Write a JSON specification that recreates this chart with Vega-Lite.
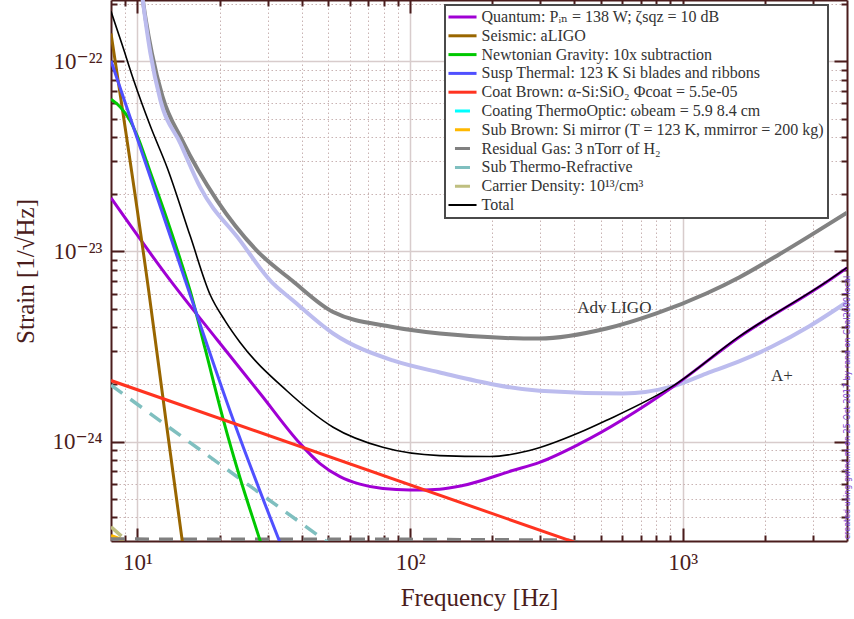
{
  "$schema": "https://vega.github.io/schema/vega-lite/v6.json",
  "width": 736,
  "height": 541,
  "autosize": {"type": "none"},
  "padding": {"left": 111, "top": 0, "right": 7, "bottom": 78},
  "background": "white",
  "config": {
    "view": {"stroke": null},
    "font": "Liberation Serif"
  },
  "datasets": {
    "curves": [
      {"s": "Quantum: Pᵢₙ = 138 W; ζsqz = 10 dB", "f": 8, "h": 1.91e-23},
      {"s": "Quantum: Pᵢₙ = 138 W; ζsqz = 10 dB", "f": 13.2, "h": 7.04e-24},
      {"s": "Quantum: Pᵢₙ = 138 W; ζsqz = 10 dB", "f": 19.57, "h": 3.44e-24},
      {"s": "Quantum: Pᵢₙ = 138 W; ζsqz = 10 dB", "f": 28.18, "h": 1.79e-24},
      {"s": "Quantum: Pᵢₙ = 138 W; ζsqz = 10 dB", "f": 39.49, "h": 9.76e-25},
      {"s": "Quantum: Pᵢₙ = 138 W; ζsqz = 10 dB", "f": 46.72, "h": 7.66e-25},
      {"s": "Quantum: Pᵢₙ = 138 W; ζsqz = 10 dB", "f": 55.31, "h": 6.54e-25},
      {"s": "Quantum: Pᵢₙ = 138 W; ζsqz = 10 dB", "f": 65.46, "h": 5.97e-25},
      {"s": "Quantum: Pᵢₙ = 138 W; ζsqz = 10 dB", "f": 79.45, "h": 5.66e-25},
      {"s": "Quantum: Pᵢₙ = 138 W; ζsqz = 10 dB", "f": 99.75, "h": 5.56e-25},
      {"s": "Quantum: Pᵢₙ = 138 W; ζsqz = 10 dB", "f": 128.4, "h": 5.62e-25},
      {"s": "Quantum: Pᵢₙ = 138 W; ζsqz = 10 dB", "f": 155.9, "h": 5.87e-25},
      {"s": "Quantum: Pᵢₙ = 138 W; ζsqz = 10 dB", "f": 237.5, "h": 7.04e-25},
      {"s": "Quantum: Pᵢₙ = 138 W; ζsqz = 10 dB", "f": 298.3, "h": 7.78e-25},
      {"s": "Quantum: Pᵢₙ = 138 W; ζsqz = 10 dB", "f": 417.8, "h": 9.72e-25},
      {"s": "Quantum: Pᵢₙ = 138 W; ζsqz = 10 dB", "f": 914.9, "h": 1.93e-24},
      {"s": "Quantum: Pᵢₙ = 138 W; ζsqz = 10 dB", "f": 1608, "h": 3.54e-24},
      {"s": "Quantum: Pᵢₙ = 138 W; ζsqz = 10 dB", "f": 3433, "h": 7.04e-24},
      {"s": "Quantum: Pᵢₙ = 138 W; ζsqz = 10 dB", "f": 4000, "h": 8.2e-24},

      {"s": "Seismic: aLIGO", "f": 8, "h": 1.4e-22},
      {"s": "Seismic: aLIGO", "f": 11.0, "h": 6.2e-24},
      {"s": "Seismic: aLIGO", "f": 12.77, "h": 1.24e-24},
      {"s": "Seismic: aLIGO", "f": 14.8, "h": 2.6e-25},

      {"s": "Newtonian Gravity: 10x subtraction", "f": 8, "h": 6.32e-23},
      {"s": "Newtonian Gravity: 10x subtraction", "f": 8.67, "h": 5.73e-23},
      {"s": "Newtonian Gravity: 10x subtraction", "f": 9.428, "h": 4.83e-23},
      {"s": "Newtonian Gravity: 10x subtraction", "f": 10, "h": 4.03e-23},
      {"s": "Newtonian Gravity: 10x subtraction", "f": 11.16, "h": 2.6e-23},
      {"s": "Newtonian Gravity: 10x subtraction", "f": 12.66, "h": 1.566e-23},
      {"s": "Newtonian Gravity: 10x subtraction", "f": 14.36, "h": 9.08e-24},
      {"s": "Newtonian Gravity: 10x subtraction", "f": 15.63, "h": 6.16e-24},
      {"s": "Newtonian Gravity: 10x subtraction", "f": 17.74, "h": 3.05e-24},
      {"s": "Newtonian Gravity: 10x subtraction", "f": 20.69, "h": 1.29e-24},
      {"s": "Newtonian Gravity: 10x subtraction", "f": 23.82, "h": 6.39e-25},
      {"s": "Newtonian Gravity: 10x subtraction", "f": 28.18, "h": 3.01e-25},
      {"s": "Newtonian Gravity: 10x subtraction", "f": 29.4, "h": 2.48e-25},

      {"s": "Susp Thermal: 123 K Si blades and ribbons", "f": 8, "h": 1.006e-22},
      {"s": "Susp Thermal: 123 K Si blades and ribbons", "f": 14.98, "h": 7.03e-24},
      {"s": "Susp Thermal: 123 K Si blades and ribbons", "f": 22.5, "h": 1.29e-24},
      {"s": "Susp Thermal: 123 K Si blades and ribbons", "f": 36.3, "h": 2.16e-25},

      {"s": "Coat Brown: α-Si:SiO₂ Φcoat = 5.5e-05", "f": 8, "h": 2.094e-24},
      {"s": "Coat Brown: α-Si:SiO₂ Φcoat = 5.5e-05", "f": 1000, "h": 1.87e-25},

      {"s": "Coating ThermoOptic: ωbeam = 5.9 8.4 cm", "f": 8, "h": 1.2e-25},
      {"s": "Coating ThermoOptic: ωbeam = 5.9 8.4 cm", "f": 4000, "h": 6e-26},

      {"s": "Sub Brown: Si mirror (T = 123 K, mmirror = 200 kg)", "f": 8, "h": 3.2e-25},
      {"s": "Sub Brown: Si mirror (T = 123 K, mmirror = 200 kg)", "f": 9.6, "h": 2.9e-25},
      {"s": "Sub Brown: Si mirror (T = 123 K, mmirror = 200 kg)", "f": 100, "h": 1.0e-25},

      {"s": "Residual Gas: 3 nTorr of H₂", "f": 8, "h": 3.07e-25},
      {"s": "Residual Gas: 3 nTorr of H₂", "f": 100, "h": 3.06e-25},
      {"s": "Residual Gas: 3 nTorr of H₂", "f": 380, "h": 3.03e-25},
      {"s": "Residual Gas: 3 nTorr of H₂", "f": 440, "h": 2.9e-25},
      {"s": "Residual Gas: 3 nTorr of H₂", "f": 4000, "h": 1.2e-25},

      {"s": "Sub Thermo-Refractive", "f": 8, "h": 1.98e-24},
      {"s": "Sub Thermo-Refractive", "f": 60, "h": 2.43e-25},

      {"s": "Carrier Density: 10¹³/cm³", "f": 8, "h": 3.56e-25},
      {"s": "Carrier Density: 10¹³/cm³", "f": 9.4, "h": 2.9e-25},

      {"s": "Total", "f": 8, "h": 1.83e-22},
      {"s": "Total", "f": 8.81, "h": 1.21e-22},
      {"s": "Total", "f": 9.69, "h": 7.94e-23},
      {"s": "Total", "f": 11.16, "h": 4.55e-23},
      {"s": "Total", "f": 12.88, "h": 2.74e-23},
      {"s": "Total", "f": 15.63, "h": 1.2e-23},
      {"s": "Total", "f": 18.5, "h": 5.9e-24},
      {"s": "Total", "f": 21, "h": 4.3e-24},
      {"s": "Total", "f": 23.8, "h": 3.32e-24},
      {"s": "Total", "f": 35.3, "h": 1.85e-24},
      {"s": "Total", "f": 52.2, "h": 1.19e-24},
      {"s": "Total", "f": 79.4, "h": 9.33e-25},
      {"s": "Total", "f": 128.5, "h": 8.44e-25},
      {"s": "Total", "f": 196, "h": 8.34e-25},
      {"s": "Total", "f": 274, "h": 8.97e-25},
      {"s": "Total", "f": 418, "h": 1.115e-24},
      {"s": "Total", "f": 523, "h": 1.29e-24},
      {"s": "Total", "f": 915, "h": 1.95e-24},
      {"s": "Total", "f": 1608, "h": 3.56e-24},
      {"s": "Total", "f": 3433, "h": 7.06e-24},
      {"s": "Total", "f": 4000, "h": 8.22e-24}
    ],
    "refs": [
      {"s": "Adv LIGO", "f": 10.34, "h": 2.37e-22},
      {"s": "Adv LIGO", "f": 10.74, "h": 1.64e-22},
      {"s": "Adv LIGO", "f": 11.3, "h": 1.1e-22},
      {"s": "Adv LIGO", "f": 12.35, "h": 6.54e-23},
      {"s": "Adv LIGO", "f": 14.6, "h": 3.84e-23},
      {"s": "Adv LIGO", "f": 19.6, "h": 1.85e-23},
      {"s": "Adv LIGO", "f": 27.4, "h": 1.01e-23},
      {"s": "Adv LIGO", "f": 36.9, "h": 7.03e-24},
      {"s": "Adv LIGO", "f": 52.2, "h": 4.8e-24},
      {"s": "Adv LIGO", "f": 84.3, "h": 4.03e-24},
      {"s": "Adv LIGO", "f": 128.5, "h": 3.7e-24},
      {"s": "Adv LIGO", "f": 298, "h": 3.48e-24},
      {"s": "Adv LIGO", "f": 525, "h": 3.93e-24},
      {"s": "Adv LIGO", "f": 800, "h": 4.72e-24},
      {"s": "Adv LIGO", "f": 1219, "h": 6.01e-24},
      {"s": "Adv LIGO", "f": 1608, "h": 7.3e-24},
      {"s": "Adv LIGO", "f": 2254, "h": 9.64e-24},
      {"s": "Adv LIGO", "f": 2900, "h": 1.2e-23},
      {"s": "Adv LIGO", "f": 4000, "h": 1.6e-23},

      {"s": "A+", "f": 10.34, "h": 2.37e-22},
      {"s": "A+", "f": 10.7, "h": 1.64e-22},
      {"s": "A+", "f": 11.16, "h": 1.1e-22},
      {"s": "A+", "f": 12.14, "h": 6.24e-23},
      {"s": "A+", "f": 14.37, "h": 3.7e-23},
      {"s": "A+", "f": 17.0, "h": 2.17e-23},
      {"s": "A+", "f": 23.8, "h": 1.14e-23},
      {"s": "A+", "f": 30.7, "h": 7.03e-24},
      {"s": "A+", "f": 37.2, "h": 5.52e-24},
      {"s": "A+", "f": 52.2, "h": 3.7e-24},
      {"s": "A+", "f": 86.4, "h": 2.67e-24},
      {"s": "A+", "f": 128.5, "h": 2.31e-24},
      {"s": "A+", "f": 298, "h": 1.85e-24},
      {"s": "A+", "f": 600, "h": 1.79e-24},
      {"s": "A+", "f": 915, "h": 1.95e-24},
      {"s": "A+", "f": 1219, "h": 2.28e-24},
      {"s": "A+", "f": 1608, "h": 2.64e-24},
      {"s": "A+", "f": 2124, "h": 3.16e-24},
      {"s": "A+", "f": 2900, "h": 4.03e-24},
      {"s": "A+", "f": 4000, "h": 5.42e-24}
    ],
    "labels": [
      {"t": "Adv LIGO", "f": 561, "h": 5.07e-24},
      {"t": "A+", "f": 2311, "h": 2.22e-24}
    ],
    "stamp": [
      {"t": "created using gwinc.m on 25-Oct-2017       by rana on Coal2000.local", "f": 4046, "h": 1.51e-24}
    ]
  },
  "resolve": {"axis": {"x": "independent", "y": "independent"}},
  "layer": [
    {
      "data": {"name": "curves"},
      "transform": [{"filter": "datum.s == 'Total'"}],
      "mark": {"type": "line", "opacity": 0},
      "encoding": {
        "x": {
          "field": "f", "type": "quantitative",
          "scale": {"type": "log", "domain": [8, 4000], "nice": false},
          "axis": {
            "orient": "bottom",
            "values": [9, 10, 20, 30, 40, 50, 60, 70, 80, 90, 100, 200, 300, 400, 500, 600, 700, 800, 900, 1000, 2000, 3000],
            "labelExpr": "datum.value == 10 ? '10¹' : datum.value == 100 ? '10²' : datum.value == 1000 ? '10³' : ''",
            "labelOverlap": false, "labelFlush": false,
            "labelFont": "Liberation Serif, DejaVu Serif", "labelFontSize": 23, "labelColor": "#4a1c1c",
            "labelPadding": 23,
            "tickSize": {"condition": {"test": "datum.value == 10 || datum.value == 100 || datum.value == 1000", "value": -13}, "value": -6},
            "tickColor": "#4a1c1c", "tickWidth": 2,
            "domainColor": "#4a1c1c", "domainWidth": 2,
            "grid": true,
            "gridColor": {"condition": {"test": "datum.value == 10 || datum.value == 100 || datum.value == 1000", "value": "#d8cccc"}, "value": "#c9b3b3"},
            "gridDash": {"condition": {"test": "datum.value == 10 || datum.value == 100 || datum.value == 1000", "value": []}, "value": [1.5, 2.5]},
            "gridWidth": {"condition": {"test": "datum.value == 10 || datum.value == 100 || datum.value == 1000", "value": 1.5}, "value": 1},
            "title": "Frequency [Hz]",
            "titleFont": "Liberation Serif, DejaVu Serif", "titleFontSize": 25, "titleFontWeight": "normal", "titleColor": "#4a1c1c",
            "titleX": 368, "titleY": 56, "titleAlign": "center", "titleBaseline": "middle"
          }
        },
        "y": {
          "field": "h", "type": "quantitative",
          "scale": {"type": "log", "domain": [3e-25, 2.1e-22], "nice": false},
          "axis": {
            "orient": "left",
            "values": [4e-25, 5e-25, 6e-25, 7e-25, 8e-25, 9e-25, 1e-24, 2e-24, 3e-24, 4e-24, 5e-24, 6e-24, 7e-24, 8e-24, 9e-24, 1e-23, 2e-23, 3e-23, 4e-23, 5e-23, 6e-23, 7e-23, 8e-23, 9e-23, 1e-22, 2e-22],
            "labelExpr": "datum.value == 1e-22 ? '10⁻²²' : datum.value == 1e-23 ? '10⁻²³' : datum.value == 1e-24 ? '10⁻²⁴' : ''",
            "labelOverlap": false, "labelFlush": false,
            "labelFont": "Liberation Serif, DejaVu Serif", "labelFontSize": 23, "labelColor": "#4a1c1c",
            "labelPadding": 22,
            "tickSize": {"condition": {"test": "datum.value == 1e-22 || datum.value == 1e-23 || datum.value == 1e-24", "value": -13}, "value": -6},
            "tickColor": "#4a1c1c", "tickWidth": 2,
            "domainColor": "#4a1c1c", "domainWidth": 2,
            "grid": true,
            "gridColor": {"condition": {"test": "datum.value == 1e-22 || datum.value == 1e-23 || datum.value == 1e-24", "value": "#d8cccc"}, "value": "#c9b3b3"},
            "gridDash": {"condition": {"test": "datum.value == 1e-22 || datum.value == 1e-23 || datum.value == 1e-24", "value": []}, "value": [1.5, 2.5]},
            "gridWidth": {"condition": {"test": "datum.value == 1e-22 || datum.value == 1e-23 || datum.value == 1e-24", "value": 1.5}, "value": 1},
            "title": "Strain [1/√Hz]",
            "titleFont": "Liberation Serif, DejaVu Serif", "titleFontSize": 25, "titleFontWeight": "normal", "titleColor": "#4a1c1c",
            "titleX": -86, "titleY": 271, "titleAngle": 270, "titleAlign": "center", "titleBaseline": "middle"
          }
        }
      }
    },
    {
      "data": {"name": "curves"},
      "transform": [{"filter": "datum.s == 'Total'"}],
      "mark": {"type": "line", "opacity": 0},
      "encoding": {
        "x": {
          "field": "f", "type": "quantitative",
          "scale": {"type": "log", "domain": [8, 4000], "nice": false},
          "axis": {
            "orient": "top",
            "values": [9, 10, 20, 30, 40, 50, 60, 70, 80, 90, 100, 200, 300, 400, 500, 600, 700, 800, 900, 1000, 2000, 3000],
            "labels": false, "grid": false, "title": null,
            "tickSize": {"condition": {"test": "datum.value == 10 || datum.value == 100 || datum.value == 1000", "value": -13}, "value": -6},
            "tickColor": "#4a1c1c", "tickWidth": 2,
            "domainColor": "#4a1c1c", "domainWidth": 2
          }
        },
        "y": {
          "field": "h", "type": "quantitative",
          "scale": {"type": "log", "domain": [3e-25, 2.1e-22], "nice": false},
          "axis": {
            "orient": "right",
            "values": [4e-25, 5e-25, 6e-25, 7e-25, 8e-25, 9e-25, 1e-24, 2e-24, 3e-24, 4e-24, 5e-24, 6e-24, 7e-24, 8e-24, 9e-24, 1e-23, 2e-23, 3e-23, 4e-23, 5e-23, 6e-23, 7e-23, 8e-23, 9e-23, 1e-22, 2e-22],
            "labels": false, "grid": false, "title": null,
            "tickSize": {"condition": {"test": "datum.value == 1e-22 || datum.value == 1e-23 || datum.value == 1e-24", "value": -13}, "value": -6},
            "tickColor": "#4a1c1c", "tickWidth": 2,
            "domainColor": "#4a1c1c", "domainWidth": 2
          }
        }
      }
    },
    {
      "data": {"name": "refs"},
      "transform": [{"filter": "datum.s == 'Adv LIGO'"}],
      "mark": {"type": "line", "clip": true, "interpolate": "monotone", "color": "#828282", "strokeWidth": 4},
      "encoding": {
        "x": {"field": "f", "type": "quantitative", "axis": null},
        "y": {"field": "h", "type": "quantitative", "axis": null}
      }
    },
    {
      "data": {"name": "refs"},
      "transform": [{"filter": "datum.s == 'A+'"}],
      "mark": {"type": "line", "clip": true, "interpolate": "monotone", "color": "#bcbcee", "strokeWidth": 4},
      "encoding": {
        "x": {"field": "f", "type": "quantitative", "axis": null},
        "y": {"field": "h", "type": "quantitative", "axis": null}
      }
    },
    {
      "data": {"name": "curves"},
      "transform": [{"filter": "indexof(['Sub Thermo-Refractive', 'Residual Gas: 3 nTorr of H₂', 'Sub Brown: Si mirror (T = 123 K, mmirror = 200 kg)', 'Carrier Density: 10¹³/cm³', 'Coating ThermoOptic: ωbeam = 5.9 8.4 cm'], datum.s) >= 0"}],
      "mark": {"type": "line", "clip": true, "strokeWidth": 3.5, "strokeDash": [14, 10]},
      "encoding": {
        "x": {"field": "f", "type": "quantitative", "axis": null},
        "y": {"field": "h", "type": "quantitative", "axis": null},
        "color": {
          "field": "s", "type": "nominal",
          "scale": {
            "domain": ["Quantum: Pᵢₙ = 138 W; ζsqz = 10 dB", "Seismic: aLIGO", "Newtonian Gravity: 10x subtraction", "Susp Thermal: 123 K Si blades and ribbons", "Coat Brown: α-Si:SiO₂ Φcoat = 5.5e-05", "Coating ThermoOptic: ωbeam = 5.9 8.4 cm", "Sub Brown: Si mirror (T = 123 K, mmirror = 200 kg)", "Residual Gas: 3 nTorr of H₂", "Sub Thermo-Refractive", "Carrier Density: 10¹³/cm³", "Total"],
            "range": ["#a000d4", "#996600", "#00c800", "#5050ff", "#ff3320", "#00ffff", "#ffb800", "#808080", "#7fbfbf", "#bfbf80", "#000000"]
          },
          "legend": {
            "orient": "none", "legendX": 334, "legendY": 5, "title": null,
            "fillColor": "white", "strokeColor": "#4a4a4a", "padding": 4,
            "symbolType": "M-1.5,0H1.5", "symbolSize": 350, "symbolStrokeWidth": 3, "symbolOffset": 5.5,
            "labelFont": "Liberation Serif, DejaVu Serif", "labelFontSize": 16, "labelColor": "#333333",
            "labelOffset": 11, "labelLimit": 500, "rowPadding": 2.8,
            "encode": {
              "legend": {"update": {"strokeWidth": {"value": 2}}},
              "symbols": {"update": {
                "strokeDash": {"signal": "datum.index >= 5 && datum.index <= 9 ? [0, 6.5, 15, 100] : [100, 0]"},
                "strokeWidth": {"signal": "datum.index == 10 ? 2 : 3"}
              }}
            }
          }
        }
      }
    },
    {
      "data": {"name": "curves"},
      "transform": [{"filter": "indexof(['Quantum: Pᵢₙ = 138 W; ζsqz = 10 dB', 'Seismic: aLIGO', 'Newtonian Gravity: 10x subtraction', 'Susp Thermal: 123 K Si blades and ribbons', 'Coat Brown: α-Si:SiO₂ Φcoat = 5.5e-05'], datum.s) >= 0"}],
      "mark": {"type": "line", "clip": true, "strokeWidth": 3, "interpolate": "monotone"},
      "encoding": {
        "x": {"field": "f", "type": "quantitative", "axis": null},
        "y": {"field": "h", "type": "quantitative", "axis": null},
        "color": {"field": "s", "type": "nominal"}
      }
    },
    {
      "data": {"name": "curves"},
      "transform": [{"filter": "datum.s == 'Total'"}],
      "mark": {"type": "line", "clip": true, "strokeWidth": 1.6, "interpolate": "monotone"},
      "encoding": {
        "x": {"field": "f", "type": "quantitative", "axis": null},
        "y": {"field": "h", "type": "quantitative", "axis": null},
        "color": {"field": "s", "type": "nominal"}
      }
    },
    {
      "data": {"name": "labels"},
      "mark": {"type": "text", "font": "Liberation Serif, DejaVu Serif", "fontSize": 17, "color": "#333333", "align": "center", "baseline": "middle"},
      "encoding": {
        "x": {"field": "f", "type": "quantitative", "axis": null},
        "y": {"field": "h", "type": "quantitative", "axis": null},
        "text": {"field": "t"}
      }
    },
    {
      "data": {"name": "stamp"},
      "mark": {"type": "text", "font": "DejaVu Sans", "fontSize": 8, "color": "#7a40d0", "angle": 270, "align": "center", "baseline": "middle", "clip": false},
      "encoding": {
        "x": {"field": "f", "type": "quantitative", "axis": null},
        "y": {"field": "h", "type": "quantitative", "axis": null},
        "text": {"field": "t"}
      }
    }
  ]
}
